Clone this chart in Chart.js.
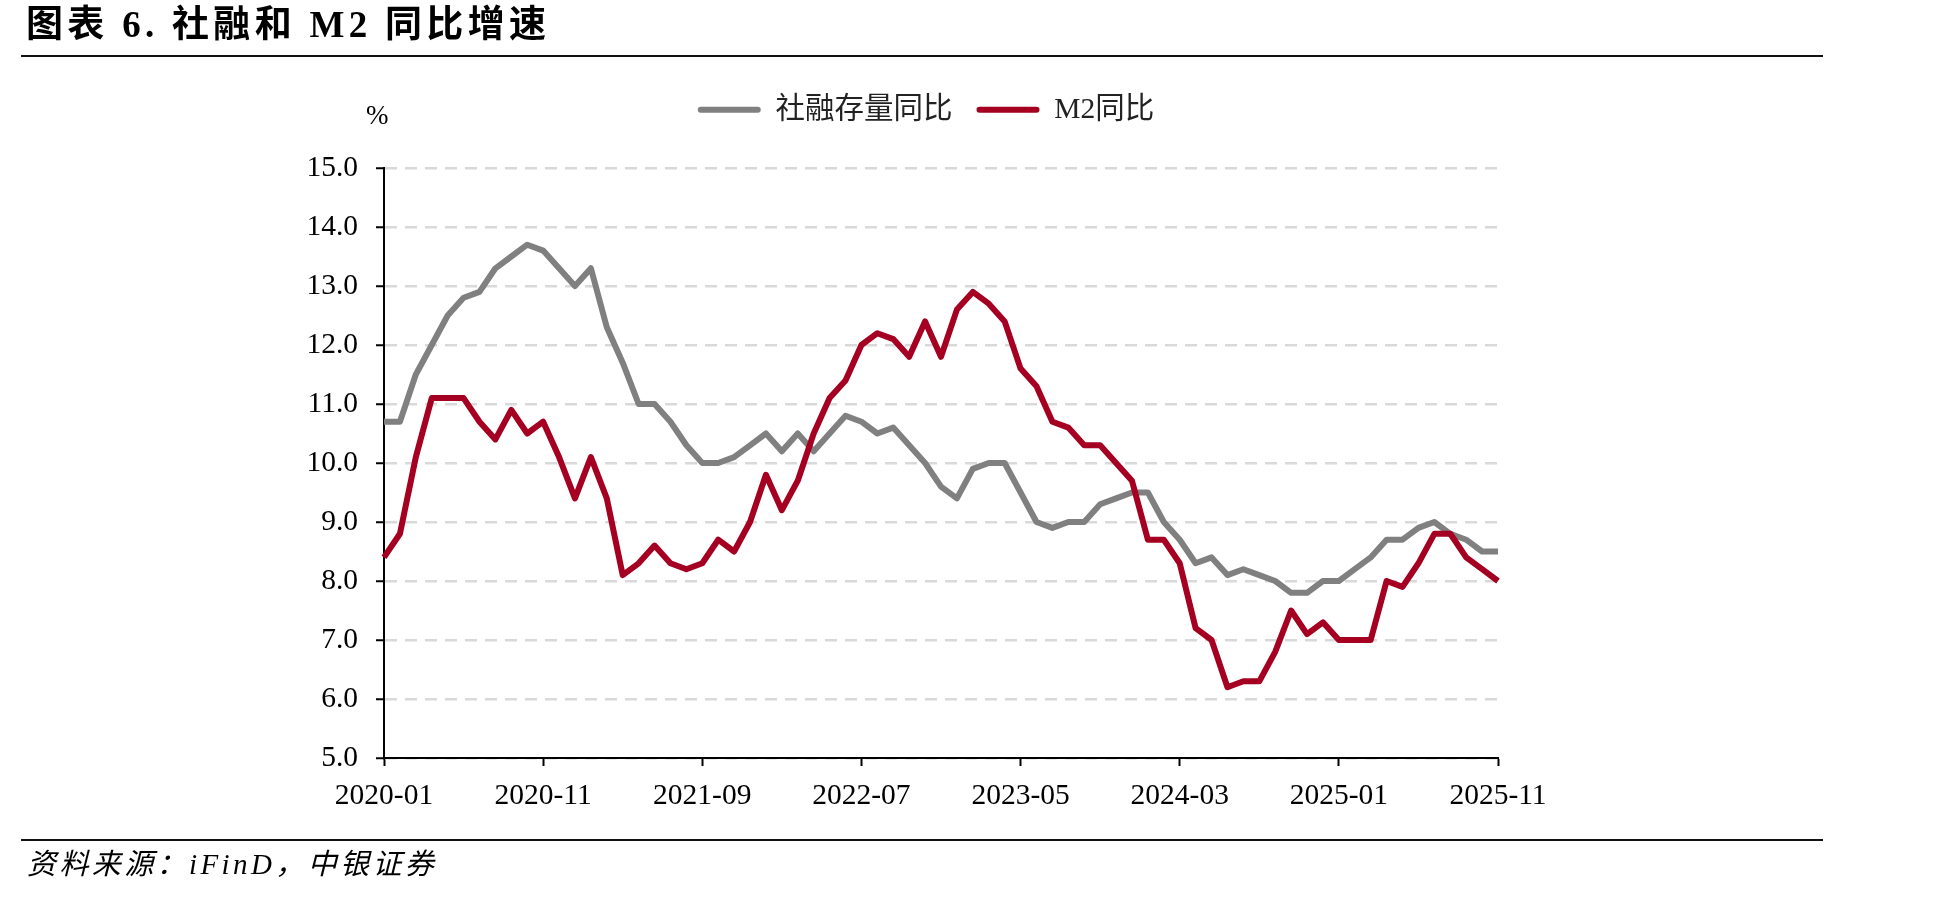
<!DOCTYPE html>
<html lang="zh-CN">
<head>
    <meta charset="UTF-8">
    <title>图表 6. 社融和 M2 同比增速</title>
    <script src="https://cdn.jsdelivr.net/npm/chart.js"></script>
    <style>
        body {
            margin: 0;
            background: #fff;
            width: 1948px;
            height: 898px;
            overflow: hidden;
            position: relative;
            font-family: 'Liberation Serif', 'Noto Sans CJK SC', serif;
        }
        .chart-box {
            position: absolute;
            left: 0;
            top: 0;
            width: 1948px;
            height: 898px;
        }
        .title {
            position: absolute;
            left: 26px;
            top: 6px;
            font-size: 37px;
            font-weight: bold;
            line-height: 1;
            letter-spacing: 4.3px;
            color: #000;
            white-space: nowrap;
        }
        .rule {
            position: absolute;
            left: 21px;
            width: 1802px;
            height: 2px;
            background: #111;
        }
        .unit {
            position: absolute;
            left: 366px;
            top: 102px;
            font-size: 27px;
            line-height: 1;
            color: #000;
        }
        .source {
            position: absolute;
            left: 27px;
            top: 850px;
            font-size: 29px;
            font-style: italic;
            line-height: 1;
            letter-spacing: 3.4px;
            color: #000;
            white-space: nowrap;
        }
    </style>
</head>
<body>
    <div class="chart-box"><canvas id="chart"></canvas></div>
    <div class="title">图表 6. 社融和 M2 同比增速</div>
    <div class="rule" style="top:55px"></div>
    <div class="unit">%</div>
    <div class="rule" style="top:839px"></div>
    <div class="source">资料来源：iFinD，中银证券</div>

    <script>
        // 月份 2020-01 ~ 2025-11
        const months = [];
        for (let y = 2020; y <= 2025; y++) {
            for (let m = 1; m <= 12; m++) {
                if (y === 2025 && m > 11) break;
                months.push(y + '-' + String(m).padStart(2, '0'));
            }
        }

        const seriesNames = ['社融存量同比', 'M2同比'];

        // 社融存量同比 (%)
        const tsfGrowth = [
            10.7, 10.7, 11.5, 12.0, 12.5, 12.8, 12.9, 13.3, 13.5, 13.7, 13.6, 13.3,
            13.0, 13.3, 12.3, 11.7, 11.0, 11.0, 10.7, 10.3, 10.0, 10.0, 10.1, 10.3,
            10.5, 10.2, 10.5, 10.2, 10.5, 10.8, 10.7, 10.5, 10.6, 10.3, 10.0, 9.6,
            9.4, 9.9, 10.0, 10.0, 9.5, 9.0, 8.9, 9.0, 9.0, 9.3, 9.4, 9.5,
            9.5, 9.0, 8.7, 8.3, 8.4, 8.1, 8.2, 8.1, 8.0, 7.8, 7.8, 8.0,
            8.0, 8.2, 8.4, 8.7, 8.7, 8.9, 9.0, 8.8, 8.7, 8.5, 8.5
        ];

        // M2同比 (%)
        const m2Growth = [
            8.4, 8.8, 10.1, 11.1, 11.1, 11.1, 10.7, 10.4, 10.9, 10.5, 10.7, 10.1,
            9.4, 10.1, 9.4, 8.1, 8.3, 8.6, 8.3, 8.2, 8.3, 8.7, 8.5, 9.0,
            9.8, 9.2, 9.7, 10.5, 11.1, 11.4, 12.0, 12.2, 12.1, 11.8, 12.4, 11.8,
            12.6, 12.9, 12.7, 12.4, 11.6, 11.3, 10.7, 10.6, 10.3, 10.3, 10.0, 9.7,
            8.7, 8.7, 8.3, 7.2, 7.0, 6.2, 6.3, 6.3, 6.8, 7.5, 7.1, 7.3,
            7.0, 7.0, 7.0, 8.0, 7.9, 8.3, 8.8, 8.8, 8.4, 8.2, 8.0
        ];

        const yMin = 5;
        const yMax = 15;
        const yStep = 1;
        const xTickEvery = 10;

        const fontFamily = "'Liberation Serif', 'Noto Sans CJK SC', serif";

        // 图例下方留白，并稍向右移
        const legendTweak = {
            id: 'legendTweak',
            beforeInit(chart) {
                const fit = chart.legend.fit;
                chart.legend.fit = function () {
                    fit.bind(chart.legend)();
                    this.height += 33.5;
                };
            },
            afterLayout(chart) {
                chart.legend.left += 25;
                chart.legend.right += 25;
            }
        };

        new Chart(document.getElementById('chart'), {
            type: 'line',
            data: {
                labels: months,
                datasets: [
                    {
                        label: seriesNames[0],
                        data: tsfGrowth,
                        borderColor: '#808080',
                        backgroundColor: '#808080',
                        borderWidth: 6,
                        pointRadius: 0,
                        tension: 0,
                        borderJoinStyle: 'round',
                        order: 2
                    },
                    {
                        label: seriesNames[1],
                        data: m2Growth,
                        borderColor: '#A50021',
                        backgroundColor: '#A50021',
                        borderWidth: 6,
                        pointRadius: 0,
                        tension: 0,
                        borderJoinStyle: 'round',
                        order: 1
                    }
                ]
            },
            plugins: [legendTweak],
            options: {
                responsive: true,
                maintainAspectRatio: false,
                animation: false,
                layout: {
                    padding: { left: 304, right: 450, top: 71, bottom: 60 }
                },
                plugins: {
                    tooltip: { enabled: false },
                    legend: {
                        position: 'top',
                        labels: {
                            boxWidth: 63,
                            boxHeight: 6,
                            padding: 24,
                            color: '#222',
                            font: { family: fontFamily, size: 29.5 },
                            sort: (a, b) => a.datasetIndex - b.datasetIndex,
                            generateLabels: (chart) => {
                                const items = Chart.defaults.plugins.legend.labels.generateLabels(chart);
                                items.forEach(it => {
                                    it.lineWidth = 0;
                                    it.borderRadius = 3;
                                });
                                return items;
                            },
                            useBorderRadius: true
                        }
                    }
                },
                scales: {
                    x: {
                        grid: {
                            drawOnChartArea: false,
                            drawTicks: true,
                            tickLength: 8,
                            tickColor: '#000',
                            tickWidth: 2
                        },
                        border: { display: true, color: '#000', width: 2 },
                        ticks: {
                            autoSkip: false,
                            maxRotation: 0,
                            padding: 13,
                            color: '#000',
                            font: { family: fontFamily, size: 29.5 },
                            callback: function (value, index) {
                                return index % xTickEvery === 0 ? this.getLabelForValue(value) : null;
                            }
                        },
                        afterFit: (scale) => { scale.height = 80; }
                    },
                    y: {
                        min: yMin,
                        max: yMax,
                        grid: {
                            color: '#D9D9D9',
                            lineWidth: 2.5,
                            tickLength: 8,
                            tickColor: '#000',
                            tickWidth: 2,
                            tickBorderDash: []
                        },
                        border: { display: true, color: '#000', width: 2, dash: [12, 8] },
                        ticks: {
                            stepSize: yStep,
                            padding: 18,
                            color: '#000',
                            font: { family: fontFamily, size: 29.5 },
                            callback: (v) => v.toFixed(1)
                        },
                        afterFit: (scale) => { scale.width = 80; }
                    }
                }
            }
        });
    </script>
</body>
</html>
